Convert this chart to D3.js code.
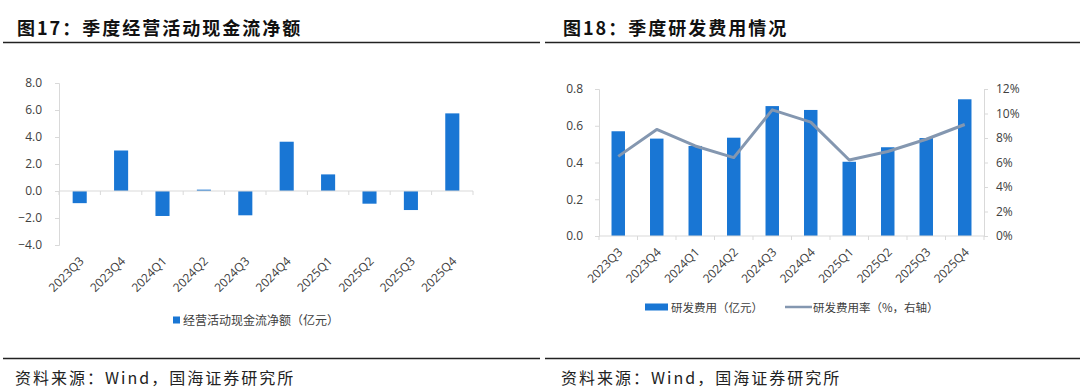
<!DOCTYPE html>
<html>
<head>
<meta charset="utf-8">
<script src="https://cdn.jsdelivr.net/npm/d3@7"></script>
<style>
    body { margin: 0; background: #fff; }
    svg { display: block; }
    .tick text { font-family: "Open Sans", "Noto Sans CJK SC", sans-serif; font-size: 12px; fill: #404040; }
    .cn { font-family: "Noto Sans CJK SC", sans-serif; }
</style>
</head>
<body>
<script>
'use strict';

var quarters = ['2023Q3', '2023Q4', '2024Q1', '2024Q2', '2024Q3', '2024Q4', '2025Q1', '2025Q2', '2025Q3', '2025Q4'];
var cashFlow = [-0.9, 3.0, -1.85, 0.1, -1.8, 3.65, 1.23, -0.94, -1.41, 5.75];
var rdExpense = [0.57, 0.53, 0.49, 0.535, 0.707, 0.686, 0.404, 0.483, 0.533, 0.744];
var rdRate = [6.5, 8.7, 7.35, 6.4, 10.3, 9.3, 6.2, 6.9, 7.9, 9.1];
var cashTicks = [-4, -2, 0, 2, 4, 6, 8];
var rdTicks = [0, 0.2, 0.4, 0.6, 0.8];
var rateTicks = [0, 2, 4, 6, 8, 10, 12];

var BLUE = '#1976d4';
var GREY_LINE = '#8497b0';
var AXIS = '#d9d9d9';

var svg = d3.select('body').append('svg')
    .attr('width', 1080)
    .attr('height', 392);

function header(x0, x1, textX, title) {
    svg.append('text')
        .attr('class', 'cn')
        .attr('x', textX)
        .attr('y', 35)
        .attr('font-size', 18)
        .attr('font-weight', 'bold')
        .attr('letter-spacing', 2)
        .attr('fill', '#111')
        .text(title);
    svg.append('line')
        .attr('x1', x0).attr('x2', x1)
        .attr('y1', 42.5).attr('y2', 42.5)
        .attr('stroke', '#222').attr('stroke-width', 1.5);
    svg.append('line')
        .attr('x1', x0).attr('x2', x1)
        .attr('y1', 358.5).attr('y2', 358.5)
        .attr('stroke', '#222').attr('stroke-width', 1.5);
    svg.append('text')
        .attr('class', 'cn')
        .attr('x', textX - 2)
        .attr('y', 384)
        .attr('font-size', 16)
        .attr('letter-spacing', 2)
        .attr('fill', '#222')
        .text('资料来源：Wind，国海证券研究所');
}

function styleAxis(g) {
    g.select('.domain').attr('stroke', AXIS);
    g.selectAll('.tick line').attr('stroke', AXIS);
}

function xLabels(g, x, bottom) {
    g.selectAll('text.xl')
        .data(quarters)
        .join('text')
        .attr('class', 'xl')
        .attr('transform', function (d) {
            return 'translate(' + (x(d) + x.bandwidth() / 2 + 5) + ',' + (bottom + 17) + ') rotate(-45)';
        })
        .attr('text-anchor', 'end')
        .attr('font-family', '"Open Sans", sans-serif')
        .attr('font-size', 12)
        .attr('fill', '#404040')
        .text(function (d) { return d; });
}

function bandTicks(g, x, yPos) {
    var step = x.step();
    var start = x.range()[0];
    g.append('line')
        .attr('x1', x.range()[0]).attr('x2', x.range()[1])
        .attr('y1', yPos).attr('y2', yPos)
        .attr('stroke', AXIS);
    g.selectAll('line.bt')
        .data(d3.range(quarters.length + 1))
        .join('line')
        .attr('class', 'bt')
        .attr('x1', function (i) { return start + i * step; })
        .attr('x2', function (i) { return start + i * step; })
        .attr('y1', yPos).attr('y2', yPos + 4)
        .attr('stroke', AXIS);
}

// ---- chart 17: operating cash flow
header(3, 540, 17, '图17：季度经营活动现金流净额');

var x1 = d3.scaleBand().domain(quarters).range([59, 473]).paddingInner(0.66).paddingOuter(0.33);
var y1 = d3.scaleLinear().domain([-4, 8]).range([245, 83]);
var left = svg.append('g');

left.append('g')
    .attr('transform', 'translate(59,0)')
    .call(d3.axisLeft(y1).tickValues(cashTicks).tickSize(4).tickPadding(13).tickFormat(d3.format('.1f')))
    .call(styleAxis);

left.selectAll('rect')
    .data(cashFlow)
    .join('rect')
    .attr('x', function (d, i) { return x1(quarters[i]); })
    .attr('width', x1.bandwidth())
    .attr('y', function (d) { return y1(Math.max(0, d)); })
    .attr('height', function (d) { return Math.abs(y1(d) - y1(0)); })
    .attr('fill', BLUE);

bandTicks(left, x1, y1(0));
xLabels(left, x1, y1(-4));

left.append('rect')
    .attr('x', 173).attr('y', 316.5).attr('width', 7).attr('height', 7)
    .attr('fill', BLUE);
left.append('text')
    .attr('class', 'cn')
    .attr('x', 183).attr('y', 324.5)
    .attr('font-size', 12)
    .attr('fill', '#404040')
    .text('经营活动现金流净额（亿元）');

// ---- chart 18: R&D expense
header(545, 1080, 563, '图18：季度研发费用情况');

var x2 = d3.scaleBand().domain(quarters).range([599, 984]).paddingInner(0.65).paddingOuter(0.325);
var y2 = d3.scaleLinear().domain([0, 0.8]).range([236, 89]);
var y3 = d3.scaleLinear().domain([0, 12]).range([236, 89]);
var right = svg.append('g');

right.append('g')
    .attr('transform', 'translate(599,0)')
    .call(d3.axisLeft(y2).tickValues(rdTicks).tickSize(4).tickPadding(12).tickFormat(d3.format('.1f')))
    .call(styleAxis);

right.append('g')
    .attr('transform', 'translate(984,0)')
    .call(d3.axisRight(y3).tickValues(rateTicks).tickSize(4).tickPadding(8).tickFormat(function (d) { return d + '%'; }))
    .call(styleAxis);

right.selectAll('rect')
    .data(rdExpense)
    .join('rect')
    .attr('x', function (d, i) { return x2(quarters[i]); })
    .attr('width', x2.bandwidth())
    .attr('y', function (d) { return y2(d); })
    .attr('height', function (d) { return y2(0) - y2(d); })
    .attr('fill', BLUE);

bandTicks(right, x2, y2(0));

right.append('path')
    .datum(rdRate)
    .attr('fill', 'none')
    .attr('stroke', GREY_LINE)
    .attr('stroke-width', 3)
    .attr('stroke-linejoin', 'round')
    .attr('d', d3.line()
        .x(function (d, i) { return x2(quarters[i]) + x2.bandwidth() / 2; })
        .y(function (d) { return y3(d); }));

xLabels(right, x2, y2(0));

right.append('rect')
    .attr('x', 645).attr('y', 303.5).attr('width', 23).attr('height', 7)
    .attr('fill', BLUE);
right.append('text')
    .attr('class', 'cn')
    .attr('x', 671).attr('y', 311.5)
    .attr('font-size', 11.5)
    .attr('fill', '#404040')
    .text('研发费用（亿元）');
right.append('line')
    .attr('x1', 785).attr('x2', 812)
    .attr('y1', 307).attr('y2', 307)
    .attr('stroke', GREY_LINE).attr('stroke-width', 2.5);
right.append('text')
    .attr('class', 'cn')
    .attr('x', 813).attr('y', 311.5)
    .attr('font-size', 11.5)
    .attr('fill', '#404040')
    .text('研发费用率（%，右轴）');
</script>
</body>
</html>
